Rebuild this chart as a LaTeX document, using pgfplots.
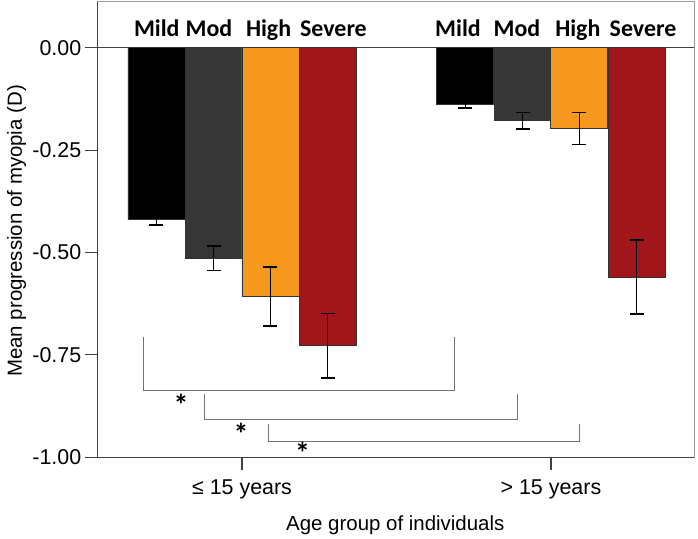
\documentclass[border=0pt]{standalone}
\usepackage{fontspec}
\setmainfont{Liberation Sans}
\newfontfamily\calibri{Carlito}
\usepackage{pgfplots}
\usepackage{pgfplotstable}
\pgfplotsset{compat=1.18}
\definecolor{cmild}{RGB}{0,0,0}
\definecolor{cmod}{RGB}{54,54,54}
\definecolor{chigh}{RGB}{247,152,30}
\definecolor{csev}{RGB}{160,22,26}

\pgfplotsset{
  mybar/.style={ybar, bar shift=0pt, draw=black!80, line width=0.8bp,
    error bars/y dir=both, error bars/y explicit,
    error bars/error bar style={black, line width=1.6bp},
    error bars/error mark options={rotate=90, mark size=7bp, black, line width=1.6bp}},
}

\pgfplotstableread{
x y e
-0.277 -0.419 0.014
0.723 -0.1375 0.009
}\mild
\pgfplotstableread{
x y e
-0.092 -0.514 0.030
0.908 -0.178 0.020
}\moder
\pgfplotstableread{
x y e
0.092 -0.608 0.072
1.092 -0.197 0.039
}\high
\pgfplotstableread{
x y e
0.277 -0.728 0.079
1.277 -0.560 0.090
}\severe

\begin{document}
\begin{tikzpicture}
\begin{axis}[
  scale only axis, width=596bp, height=455bp,
  xmin=-0.467, xmax=1.463, ymin=-1, ymax=0.112,
  clip=false,
  bar width=0.1845,
  xtick={0,1}, xticklabels={≤ 15 years, > 15 years},
  ytick={0,-0.25,-0.5,-0.75,-1},
  yticklabel style={/pgf/number format/.cd, fixed, fixed zerofill, precision=2},
  /pgf/number format/assume math mode=true,
  tick label style={font=\fontsize{21.5}{25}\selectfont},
  xticklabel style={yshift=-6bp},
  tick align=outside, major tick length=13bp,
  tick style={black!75, line width=1.2bp},
  xtick pos=left, ytick pos=left,
  axis line style={black!40, line width=1bp},
  xlabel={Age group of individuals},
  ylabel={Mean progression of myopia (D)},
  label style={font=\fontsize{20.5}{24}\selectfont},
  xlabel style={at={(axis description cs:0.499,-0.149)}, anchor=center},
  ylabel style={at={(axis description cs:-0.136,0.497)}, anchor=center},
]
\draw[black!75, line width=1.2bp] (axis cs:-0.467,0) -- (axis cs:1.463,0);
\addplot[mybar, fill=cmild] table[x=x, y=y, y error=e] {\mild};
\addplot[mybar, fill=cmod] table[x=x, y=y, y error=e] {\moder};
\addplot[mybar, fill=chigh] table[x=x, y=y, y error=e] {\high};
\addplot[mybar, fill=csev] table[x=x, y=y, y error=e] {\severe};

\addplot[black!55, line width=1bp, sharp plot, mark=none] coordinates {(-0.319,-0.706)(-0.319,-0.836)(0.687,-0.836)(0.687,-0.706)};
\addplot[black!55, line width=1bp, sharp plot, mark=none] coordinates {(-0.120,-0.846)(-0.120,-0.907)(0.891,-0.907)(0.891,-0.846)};
\addplot[black!55, line width=1bp, sharp plot, mark=none] coordinates {(0.085,-0.920)(0.085,-0.961)(1.092,-0.961)(1.092,-0.920)};

\draw[black!75, line width=1.3bp] (rel axis cs:0,1) -- (rel axis cs:0,0) -- (rel axis cs:1,0);

\node[font=\calibri\bfseries\fontsize{30}{32}\selectfont] at (axis cs:-0.197,-0.872) {*};
\node[font=\calibri\bfseries\fontsize{30}{32}\selectfont] at (axis cs:-0.003,-0.944) {*};
\node[font=\calibri\bfseries\fontsize{30}{32}\selectfont] at (axis cs:0.196,-0.990) {*};

\begin{scope}[every node/.style={font=\calibri\bfseries\fontsize{24}{28}\selectfont, anchor=base}]
\node at (axis cs:-0.276,0.0286) {Mild};
\node at (axis cs:-0.107,0.0286) {Mod};
\node at (axis cs:0.086,0.0286) {High};
\node at (axis cs:0.296,0.0286) {Severe};
\node at (axis cs:0.699,0.0286) {Mild};
\node at (axis cs:0.890,0.0286) {Mod};
\node at (axis cs:1.087,0.0286) {High};
\node at (axis cs:1.298,0.0286) {Severe};
\end{scope}
\end{axis}
\path ([shift={(-97.7bp,-81bp)}]current axis.south west) rectangle ([shift={(4bp,2bp)}]current axis.north east);
\end{tikzpicture}
\end{document}
